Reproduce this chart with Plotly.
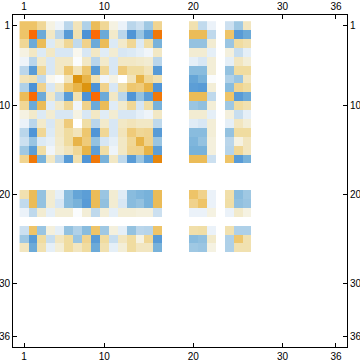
import plotly.graph_objects as go

# Matrix size and the indices of rows/columns that carry values (symmetric matrix)
n_size = 36
active_index = [1, 2, 3, 4, 5, 6, 7, 8, 9, 10, 11, 12, 13, 14, 15, 16, 20, 21, 22, 24, 25, 26]
tick_values = [1, 10, 20, 30, 36]
tick_labels = ["1", "10", "20", "30", "36"]

# Values, rows/cols in the order of active_index
row_01 = [0.5, 0.5, 0.35, 0.05, -0.04, -0.28, 0.22, -0.32, 0.55, 0.35, 0.05, -0.05, -0.28, -0.2, -0.38, 0.38, 0.25, -0.25, -0.05, -0.2, -0.38, 0.2]
row_02 = [0.5, 1.0, -0.55, 0.18, -0.28, -0.65, 0.25, -0.75, 1.0, -0.55, 0.15, -0.28, -0.72, -0.4, -0.62, 0.95, 0.55, 0.55, -0.26, 0.5, -0.65, -0.55]
row_03 = [0.35, -0.55, 0.55, -0.12, 0.15, 0.35, -0.25, 0.4, -0.55, 0.55, -0.12, 0.15, 0.35, -0.12, 0.28, -0.5, -0.42, -0.42, 0.12, -0.4, 0.3, 0.25]
row_04 = [0.05, 0.18, -0.12, 0.18, -0.14, -0.14, 0.03, -0.14, 0.18, -0.1, 0.12, -0.14, -0.12, -0.08, -0.03, 0.18, 0.12, 0.12, -0.08, 0.07, -0.22, -0.08]
row_05 = [-0.04, -0.28, 0.15, -0.14, 0.18, 0.18, -0.01, 0.18, -0.28, 0.15, -0.14, 0.18, 0.18, 0.15, 0.12, -0.28, -0.08, -0.14, 0.1, -0.08, 0.2, 0.1]
row_06 = [-0.28, -0.65, 0.35, -0.14, 0.18, 0.48, 0.22, 0.48, -0.65, 0.35, -0.14, 0.45, 0.3, 0.3, 0.22, -0.65, -0.45, -0.45, 0.1, -0.42, 0.3, 0.3]
row_07 = [0.22, 0.25, -0.25, 0.03, -0.01, 0.22, 0.85, 0.6, 0.25, -0.03, 0.05, 0.0, 0.22, 0.6, 0.35, 0.25, -0.58, -0.5, -0.01, -0.32, -0.4, 0.2]
row_08 = [-0.32, -0.75, 0.4, -0.14, 0.18, 0.48, 0.6, 0.85, -0.75, 0.4, -0.14, 0.28, 0.48, 0.45, 0.6, -0.72, -0.62, -0.65, 0.1, -0.45, 0.38, 0.3]
row_09 = [0.55, 1.0, -0.55, 0.18, -0.28, -0.65, 0.25, -0.75, 1.0, -0.55, 0.18, -0.28, -0.72, -0.42, -0.62, 0.95, 0.55, 0.55, -0.26, 0.5, -0.65, -0.55]
row_10 = [0.35, -0.55, 0.55, -0.1, 0.15, 0.35, -0.03, 0.4, -0.55, 0.55, -0.1, 0.15, 0.35, -0.15, 0.28, -0.5, -0.4, -0.43, 0.1, -0.38, 0.3, 0.25]
row_11 = [0.05, 0.15, -0.12, 0.12, -0.14, -0.14, 0.05, -0.14, 0.18, -0.1, 0.12, -0.14, -0.14, -0.08, -0.04, 0.18, 0.12, 0.12, -0.08, 0.07, -0.22, -0.08]
row_12 = [-0.05, -0.28, 0.15, -0.14, 0.18, 0.45, 0.0, 0.28, -0.28, 0.15, -0.14, 0.18, 0.22, 0.18, 0.18, -0.26, -0.1, -0.14, 0.1, -0.08, 0.2, 0.1]
row_13 = [-0.28, -0.72, 0.35, -0.12, 0.18, 0.3, 0.22, 0.48, -0.72, 0.35, -0.14, 0.22, 0.45, 0.35, 0.38, -0.65, -0.45, -0.45, 0.1, -0.42, 0.3, 0.3]
row_14 = [-0.2, -0.4, -0.12, -0.08, 0.15, 0.3, 0.6, 0.45, -0.42, -0.15, -0.08, 0.18, 0.35, 0.6, 0.4, -0.4, -0.48, -0.42, 0.07, -0.28, 0.05, 0.2]
row_15 = [-0.38, -0.62, 0.28, -0.03, 0.12, 0.22, 0.35, 0.6, -0.62, 0.28, -0.04, 0.18, 0.38, 0.4, 0.6, -0.62, -0.5, -0.5, 0.07, -0.3, 0.35, 0.2]
row_16 = [0.38, 0.95, -0.5, 0.18, -0.28, -0.65, 0.25, -0.72, 0.95, -0.5, 0.18, -0.26, -0.65, -0.4, -0.62, 0.9, 0.55, 0.55, -0.2, 0.5, -0.65, -0.5]
row_20 = [0.25, 0.55, -0.42, 0.12, -0.08, -0.45, -0.58, -0.62, 0.55, -0.4, 0.12, -0.1, -0.45, -0.48, -0.5, 0.55, 0.5, 0.4, -0.05, 0.27, -0.45, -0.38]
row_21 = [-0.25, 0.55, -0.42, 0.12, -0.14, -0.45, -0.5, -0.65, 0.55, -0.43, 0.12, -0.14, -0.45, -0.42, -0.5, 0.55, 0.4, 0.5, -0.05, 0.28, -0.43, -0.4]
row_22 = [-0.05, -0.26, 0.12, -0.08, 0.1, 0.1, -0.01, 0.1, -0.26, 0.1, -0.08, 0.1, 0.1, 0.07, 0.07, -0.2, -0.05, -0.05, 0.05, -0.05, 0.15, 0.05]
row_24 = [-0.2, 0.5, -0.4, 0.07, -0.08, -0.42, -0.32, -0.45, 0.5, -0.38, 0.07, -0.08, -0.42, -0.28, -0.3, 0.5, 0.27, 0.28, -0.05, 0.25, -0.33, -0.33]
row_25 = [-0.38, -0.65, 0.3, -0.22, 0.2, 0.3, -0.4, 0.38, -0.65, 0.3, -0.22, 0.2, 0.3, 0.05, 0.35, -0.65, -0.45, -0.43, 0.15, -0.33, 0.48, 0.25]
row_26 = [0.2, -0.55, 0.25, -0.08, 0.1, 0.3, 0.2, 0.3, -0.55, 0.25, -0.08, 0.1, 0.3, 0.2, 0.2, -0.5, -0.38, -0.4, 0.05, -0.33, 0.25, 0.25]

rows = [row_01, row_02, row_03, row_04, row_05, row_06, row_07, row_08, row_09, row_10, row_11,
        row_12, row_13, row_14, row_15, row_16, row_20, row_21, row_22, row_24, row_25, row_26]

# Full 36x36 matrix, zeros elsewhere (shown white)
z = [[0.0] * n_size for _ in range(n_size)]
for i, ri in enumerate(active_index):
    for j, cj in enumerate(active_index):
        z[ri - 1][cj - 1] = rows[i][j]

axis_vals = list(range(1, n_size + 1))

stops = [
    (-1.0, "#3a80cc"), (-0.75, "#4c92d6"), (-0.62, "#5c9ed6"), (-0.5, "#78b2da"),
    (-0.42, "#94c2e0"), (-0.3, "#b6d4ea"), (-0.2, "#cce0f0"), (-0.1, "#e0ecf6"),
    (-0.03, "#f0f5fa"), (0.0, "#ffffff"), (0.05, "#f5f2e2"), (0.12, "#f2ecd2"),
    (0.2, "#f2e6c0"), (0.3, "#f0dca0"), (0.4, "#f0d28c"), (0.5, "#eec468"),
    (0.6, "#e8b448"), (0.85, "#dc9410"), (1.0, "#fa6a05"),
]
colorscale = [[(v + 1) / 2, c] for v, c in stops]

fig = go.Figure()
fig.add_trace(go.Heatmap(
    z=z, x=axis_vals, y=axis_vals, colorscale=colorscale, zmin=-1, zmax=1,
    showscale=False, hoverinfo="skip",
))
# invisible trace to carry the mirrored (top/right) labelled axes
fig.add_trace(go.Scatter(x=[1], y=[1], xaxis="x2", yaxis="y2", mode="markers",
                         marker=dict(opacity=0), showlegend=False, hoverinfo="skip"))

xr = [-0.24, 37.24]
yr = [37.2, -0.2]
font = dict(family="Liberation Sans, Arial, sans-serif", size=10, color="black")
common = dict(tickmode="array", tickvals=tick_values, ticktext=tick_labels,
              ticks="inside", ticklen=4, tickwidth=1, tickcolor="black",
              showline=True, linecolor="black", linewidth=1, automargin=False,
              mirror=True,
              showgrid=False, zeroline=False, tickfont=font, fixedrange=True)

fig.update_layout(
    width=360, height=363,
    margin=dict(l=13, r=13, t=15, b=16, autoexpand=False),
    paper_bgcolor="white", plot_bgcolor="white",
    showlegend=False,
    xaxis=dict(range=xr, side="bottom", **common),
    yaxis=dict(range=yr, side="left", **common),
    xaxis2=dict(range=xr, side="top", overlaying="x", anchor="y", **common),
    yaxis2=dict(range=yr, side="right", overlaying="y", anchor="x", **common),
)

fig.write_html(
    "out.html",
    config={"displayModeBar": False, "staticPlot": True},
    post_script="document.body.style.margin='0';document.body.style.padding='0';",
)
